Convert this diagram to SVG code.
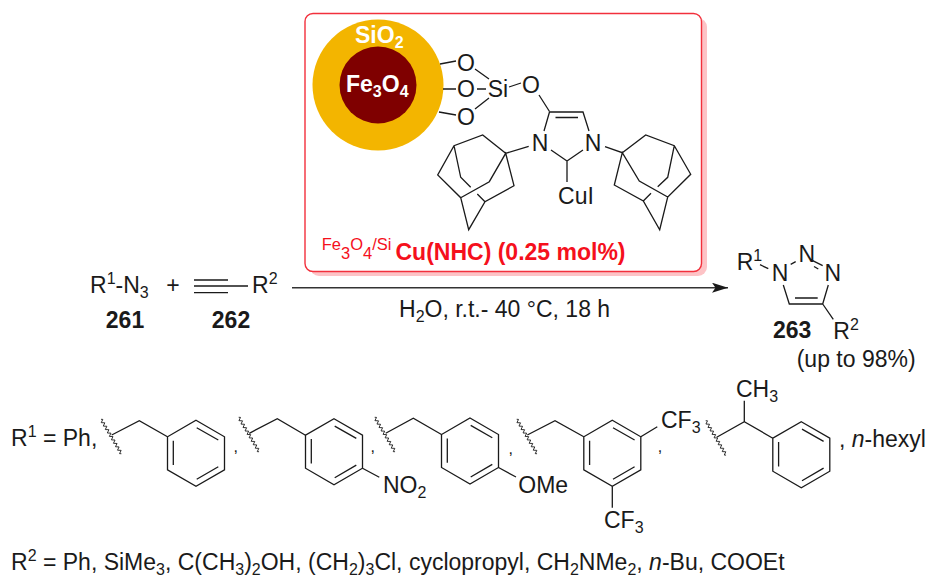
<svg xmlns="http://www.w3.org/2000/svg" xmlns:xlink="http://www.w3.org/1999/xlink" width="937" height="585" viewBox="0 0 937 585">
<style>
text{font-family:"Liberation Sans",Arial,sans-serif;font-size:23px;fill:#1a1a1a}
.b{font-weight:bold}
.w{fill:#fff;font-weight:bold}
.red{fill:#f5101c;font-weight:bold}
.s{font-size:16px}
.bond,.bond path,.bond line,.bond polygon,.bond polyline{fill:none;stroke:#1a1a1a;stroke-width:1.3;stroke-linejoin:miter}
.wave{fill:none;stroke:#1a1a1a;stroke-width:.8}
</style>
<defs>
<g id="benzene" class="bond">
<polygon points="0,-33 28.500,-16.500 28.500,16.500 0,33 -28.500,16.500 -28.500,-16.500"/>
<path d="M.7-25.600 22.300-13.300M-22.700-12.600V11.700M.7 26 22.300 13.400"/>
</g>
<path id="wavy" class="wave" d="M0 0l1-1.500 2 3 2-3 2 3 2-3 2 3 2-3 2 3 2-3 2 3 2-3 2 3 2-3 2 3 2-3 2 3 2-3 2 3 2-3 2 3 1-1.500"/>
<marker id="arrowhead" markerUnits="userSpaceOnUse" markerWidth="17" markerHeight="10" refX="16" refY="5" orient="auto"><path d="M0 0 16 5 0 10 3.500 5Z" fill="#1a1a1a"/></marker>
</defs>
<rect width="937" height="585" fill="#fff"/>

<g id="catalyst-box">
<rect x="310" y="18" width="397" height="258" rx="9" fill="#fdc3c6"/>
<rect x="305" y="13.500" width="396.500" height="258" rx="8" fill="#fff" stroke="#f2303c" stroke-width="1.400"/>
</g>
<g id="nanoparticle">
<circle cx="378" cy="85" r="65.500" fill="#f3b500"/>
<circle cx="378" cy="85" r="38.500" fill="#7f0000"/>
<text class="w" x="355" y="42.700">SiO<tspan class="s" dy="5">2</tspan></text>
<text class="w" x="346" y="91.700">Fe<tspan class="s" dy="5">3</tspan><tspan dy="-5">O</tspan><tspan class="s" dy="5">4</tspan></text>
</g>
<g id="catalyst-ligand">
<g class="bond"><path d="M440 64 456 61M443 89H456M439 112 456 115M475 69 489 79M477 89H486M475 109 489 98M509 87 521 83M539 95 549.500 111.500M549.500 112H583L589 131M549.500 112 544 131M555.500 117.500H578M551 150 567 161 583 150M567 161V182"/></g>
<text x="466" y="70.700" text-anchor="middle">O</text>
<text x="466" y="96.700" text-anchor="middle">O</text>
<text x="466" y="124.700" text-anchor="middle">O</text>
<text x="498" y="96.700" text-anchor="middle">Si</text>
<text x="531" y="93" text-anchor="middle">O</text>
<text x="540" y="151" text-anchor="middle">N</text>
<text x="593" y="151" text-anchor="middle">N</text>
<text x="576" y="204" text-anchor="middle">CuI</text>
</g>
<g id="adamantyl-left" class="bond"><path d="M528.700 146.300 505.700 153.300 482.700 135 454 145.700 437.700 175 460.700 197.700 468.700 229.700 485 201.700 514 185.700 505.700 153.300 489.300 181.700 460.700 197.700M454 145.700 460.700 177.300 470.700 187.300M485 201.700 477.300 194"/></g>
<g id="adamantyl-right" class="bond"><path d="M605 146.700 622.300 152.700 645.700 135 674.300 145.700 690.700 174.300 667.700 197 659.700 229.700 643.300 201 614.300 185 622.300 152.700 639.300 181 667.700 197M674.300 145.700 667.700 177.300 657.700 186.700M643.300 201 651 193.300"/></g>
<g id="catalyst-label">
<text class="red" x="321.700" y="250" style="font-weight:normal;font-size:16.500px">Fe<tspan dy="9">3</tspan><tspan dy="-9">O</tspan><tspan dy="9">4</tspan><tspan dy="-9">/Si</tspan></text>
<text class="red" x="395.500" y="260">Cu(NHC) (0.25 mol%)</text>
</g>

<g id="azide-261">
<text x="90" y="293">R<tspan class="s" dy="-9">1</tspan><tspan dy="9">-N</tspan><tspan class="s" dy="5">3</tspan></text>
<text class="b" x="125" y="328" text-anchor="middle">261</text>
</g>
<g id="plus"><text x="173" y="293" text-anchor="middle">+</text></g>
<g id="alkyne-262">
<g class="bond"><path d="M194 280H228M194 286H248M194 292.700H228"/></g>
<text x="252" y="293">R<tspan class="s" dy="-9">2</tspan></text>
<text class="b" x="231" y="328" text-anchor="middle">262</text>
</g>
<g id="connectors">
<line x1="292" y1="287.700" x2="728" y2="287.700" stroke="#333" stroke-width="1.400" marker-end="url(#arrowhead)"/>
</g>
<g id="conditions"><text x="399" y="317">H<tspan class="s" dy="5">2</tspan><tspan dy="-5">O, r.t.- 40 °C, 18 h</tspan></text></g>
<g id="triazole-263">
<g class="bond"><path d="M760 264.700 768.300 268.700M790.700 264.300 795.700 261.700M812.700 260.700 822.700 265.700M814 266.500 818.300 269M828.300 285 822.700 304H789.300L783.300 285M795 298H817.700M822.700 304 833.300 319.300"/></g>
<text x="736.700" y="270">R<tspan class="s" dy="-9">1</tspan></text>
<text x="780" y="281" text-anchor="middle">N</text>
<text x="806.700" y="261.700" text-anchor="middle">N</text>
<text x="832.700" y="281" text-anchor="middle">N</text>
<text x="833.300" y="339.300">R<tspan class="s" dy="-9">2</tspan></text>
<text class="b" x="773" y="338">263</text>
<text x="796.700" y="366.700">(up to 98%)</text>
</g>

<g id="r1-list">
<text x="11" y="446">R<tspan class="s" dy="-9">1</tspan><tspan dy="9"> = Ph,</tspan></text>
<text x="235.700" y="452" text-anchor="middle" class="s">,</text>
<text x="372.700" y="452" text-anchor="middle" class="s">,</text>
<text x="510.700" y="454" text-anchor="middle" class="s">,</text>
<text x="660" y="452" text-anchor="middle" class="s">,</text>
<text x="839" y="446.700">, <tspan font-style="italic">n</tspan>-hexyl</text>
</g>
<g id="benzyl">
<use href="#wavy" transform="translate(101 419.300) rotate(59.400)"/>
<g class="bond"><path d="M111.700 435 139.300 420.700 167.500 436.800"/></g>
<use href="#benzene" x="196" y="453.300"/>
</g>
<g id="nitrobenzyl">
<use href="#wavy" transform="translate(238.700 417.300) rotate(59.400)"/>
<g class="bond"><path d="M249.300 433.300 277.300 418.700 305.500 435.200M362.500 468.200 379.300 477.300"/></g>
<use href="#benzene" x="334" y="451.700"/>
<text x="383" y="492.700">NO<tspan class="s" dy="5">2</tspan></text>
</g>
<g id="methoxybenzyl">
<use href="#wavy" transform="translate(374.700 417.300) rotate(59.400)"/>
<g class="bond"><path d="M385.700 433.300 413.300 418.300 441.500 434.500M498.500 467.500 516 477"/></g>
<use href="#benzene" x="470" y="451"/>
<text x="518.300" y="492.700">OMe</text>
</g>
<g id="bis-cf3-benzyl">
<use href="#wavy" transform="translate(516.700 419.300) rotate(59.400)"/>
<g class="bond"><path d="M527.300 435 555 420.700 583.800 436.800M640.800 436.800 657.300 426.700M612.300 486.300V507.700"/></g>
<use href="#benzene" x="612.300" y="453.300"/>
<text x="661" y="428.300">CF<tspan class="s" dy="5">3</tspan></text>
<text x="604" y="527.700">CF<tspan class="s" dy="5">3</tspan></text>
</g>
<g id="phenylethyl">
<use href="#wavy" transform="translate(705.700 420.700) rotate(59.400)"/>
<g class="bond"><path d="M716.700 437.300 744.300 421.700 772.800 438.200M744.300 421.700V400.700"/></g>
<use href="#benzene" x="801.300" y="454.700"/>
<text x="736" y="396.700">CH<tspan class="s" dy="5">3</tspan></text>
</g>
<g id="r2-list">
<text x="11" y="570">R<tspan class="s" dy="-9">2</tspan><tspan dy="9"> = Ph, SiMe</tspan><tspan class="s" dy="5">3</tspan><tspan dy="-5">, C(CH</tspan><tspan class="s" dy="5">3</tspan><tspan dy="-5">)</tspan><tspan class="s" dy="5">2</tspan><tspan dy="-5">OH, (CH</tspan><tspan class="s" dy="5">2</tspan><tspan dy="-5">)</tspan><tspan class="s" dy="5">3</tspan><tspan dy="-5">Cl, cyclopropyl, CH</tspan><tspan class="s" dy="5">2</tspan><tspan dy="-5">NMe</tspan><tspan class="s" dy="5">2</tspan><tspan dy="-5">, </tspan><tspan font-style="italic">n</tspan><tspan>-Bu, COOEt</tspan></text>
</g>
</svg>
